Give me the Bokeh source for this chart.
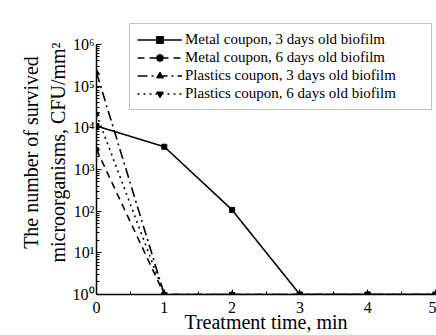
from bokeh.plotting import figure
from bokeh.models import Legend, LegendItem, CustomJSTickFormatter, Range1d
from bokeh.embed import file_html
from bokeh.resources import INLINE

# ---- data ----
times = [0, 1, 2, 3, 4, 5]
metal_3d = [1.1e4, 3.5e3, 1.07e2, 1, 1, 1]
metal_6d = [3.0e3, 1, 1, 1, 1, 1]
plastic_3d = [2.1e5, 1, 1, 1, 1, 1]
plastic_6d = [2.1e4, 1, 1, 1, 1, 1]
series_labels = [
    "Metal coupon, 3 days old biofilm",
    "Metal coupon, 6 days old biofilm",
    "Plastics coupon, 3 days old biofilm",
    "Plastics coupon, 6 days old biofilm",
]
x_label = "Treatment time, min"
y_label = "The number of survived\nmicroorganisms, CFU/mm\u00b2"
y_axis_min, y_axis_max = 1, 1e6

FONT = "Liberation Serif"

# frame extends above the 10^6 tick so the legend (which overlaps the top) is not clipped
p = figure(width=436, height=335, y_axis_type="log",
           x_range=Range1d(0, 5), y_range=Range1d(y_axis_min, 6.5e6),
           output_backend="svg", toolbar_location=None,
           min_border_left=96, min_border_right=1,
           min_border_top=10, min_border_bottom=40)
p.outline_line_color = None
p.xgrid.visible = False
p.ygrid.visible = False
p.background_fill_color = "white"
p.border_fill_color = "white"

# series
l1 = p.line(times, metal_3d, line_color="black", line_width=1.6)
m1 = p.scatter(times, metal_3d, marker="square", size=5, color="black")
l2 = p.line(times, metal_6d, line_color="black", line_width=1.6, line_dash="7 5")
m2 = p.scatter(times, metal_6d, marker="circle", size=5, color="black")
l3 = p.line(times, plastic_3d, line_color="black", line_width=1.6, line_dash="10 4 2 4")
m3 = p.scatter(times, plastic_3d, marker="triangle", size=6, color="black")
l4 = p.line(times, plastic_6d, line_color="black", line_width=1.6, line_dash="2 4")
m4 = p.scatter(times, plastic_6d, marker="inverted_triangle", size=6, color="black")

# axes
for ax in (p.xaxis[0], p.yaxis[0]):
    ax.axis_line_color = "black"
    ax.axis_line_width = 1.5
    ax.major_tick_line_color = "black"
    ax.minor_tick_line_color = "black"
    ax.major_tick_in = 5
    ax.major_tick_out = 0
    ax.minor_tick_in = 3
    ax.minor_tick_out = 0
    ax.major_label_text_font = FONT
    ax.major_label_text_color = "black"
    ax.axis_label_text_font = FONT
    ax.axis_label_text_font_style = "normal"
    ax.axis_label_text_color = "black"
    ax.axis_label_text_font_size = "20px"

p.xaxis.ticker.desired_num_ticks = 6
p.xaxis[0].ticker.num_minor_ticks = 2
p.xaxis.major_label_text_font_size = "16px"
p.xaxis.major_label_standoff = 7
p.xaxis.axis_label = x_label
p.xaxis.axis_label_standoff = -5

p.yaxis.bounds = (y_axis_min, y_axis_max)
p.yaxis.major_label_text_font_size = "16px"
p.yaxis.major_label_standoff = 2
p.yaxis.axis_label = y_label
p.yaxis.axis_label_standoff = 1
p.yaxis.formatter = CustomJSTickFormatter(code="""
const sup = {"0":"\u2070","1":"\u00b9","2":"\u00b2","3":"\u00b3","4":"\u2074",
             "5":"\u2075","6":"\u2076","7":"\u2077","8":"\u2078","9":"\u2079","-":"\u207b"};
const e = Math.round(Math.log10(tick));
return "10" + String(e).split("").map(c => sup[c]).join("");
""")

legend = Legend(items=[
    LegendItem(label=series_labels[0], renderers=[l1, m1]),
    LegendItem(label=series_labels[1], renderers=[l2, m2]),
    LegendItem(label=series_labels[2], renderers=[l3, m3]),
    LegendItem(label=series_labels[3], renderers=[l4, m4]),
], location=(33, 184))
legend.label_text_font = FONT
legend.label_text_font_size = "15px"
legend.label_text_color = "black"
legend.label_height = 17
legend.glyph_height = 17
legend.glyph_width = 45
legend.label_standoff = 3
legend.label_width = 239
legend.spacing = 1
legend.padding = 7
legend.margin = 0
legend.border_line_color = "#888888"
legend.border_line_width = 1.2
legend.background_fill_alpha = 1
p.add_layout(legend, "center")

open("out.html", "w").write(file_html(p, INLINE))
